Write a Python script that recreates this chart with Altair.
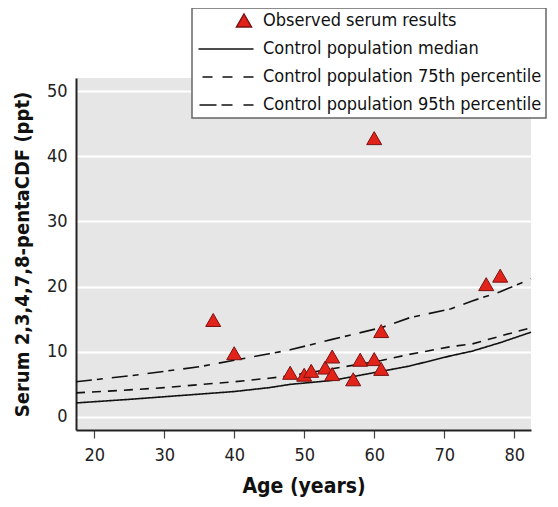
import altair as alt
import pandas as pd

# Observed serum results (age in years, 2,3,4,7,8-pentaCDF in ppt)
obs_age = [37, 40, 48, 50, 51, 53, 54, 54, 57, 58, 60, 61, 61, 76, 78, 60]
obs_val = [14.8, 9.7, 6.7, 6.4, 7.0, 7.5, 9.2, 6.5, 5.7, 8.7, 8.8, 13.1, 7.3, 20.3, 21.6, 42.7]

# Control population curves
curve_age = [17.4, 25, 30, 35, 40, 45, 48, 54, 61, 65, 71, 74, 78, 82.4]
median = [2.15, 2.7, 3.1, 3.5, 3.9, 4.5, 5.0, 5.6, 7.0, 7.8, 9.4, 10.1, 11.4, 13.0]
p75 = [3.7, 4.15, 4.5, 4.95, 5.4, 5.95, 6.3, 7.4, 8.65, 9.6, 10.8, 11.2, 12.4, 13.7]
p95 = [5.4, 6.3, 7.0, 7.7, 8.7, 9.7, 10.3, 11.9, 13.7, 15.2, 16.6, 17.8, 19.2, 21.2]

names = ["Observed serum results", "Control population median",
         "Control population 75th percentile", "Control population 95th percentile"]

FONT = "'DejaVu Sans Condensed', 'Roboto Condensed', Roboto, sans-serif"

obs_df = pd.DataFrame({"age": obs_age, "value": obs_val, "series": names[0]})
rows = []
for nm, vals in zip(names[1:], [median, p75, p95]):
    for a, v in zip(curve_age, vals):
        rows.append({"age": a, "value": v, "series": nm})
curve_df = pd.DataFrame(rows)

tri = "M0,-1.4L1.5,1.2L-1.5,1.2Z"
sym_med = "M-9.1,0H1.9"
sym_75 = "M-8.3,0H-6.3M-4.3,0H-2.3M-0.1,0H1.9"
sym_95 = "M-8.9,0H-5.5M-4.5,0H-2.3M-0.1,0H1.9"

xscale = alt.Scale(domain=[17.4, 82.4], nice=False, zero=False)
yscale = alt.Scale(domain=[-2, 52], nice=False, zero=False)

xaxis = alt.Axis(values=[20, 30, 40, 50, 60, 70, 80], grid=False, tickSize=8,
                 tickColor="#444", tickWidth=1.2, domainColor="#222", domainWidth=2,
                 labelFont=FONT, labelFontSize=18, labelColor="#222", labelPadding=8,
                 title="Age (years)", titleFont=FONT, titleFontSize=21,
                 titleFontWeight="bold", titlePadding=11, titleColor="#111")
yaxis = alt.Axis(values=[0, 10, 20, 30, 40, 50], grid=True, gridColor="white",
                 gridWidth=2, tickSize=0, domainColor="#222", domainWidth=2,
                 labelFont=FONT, labelFontSize=18, labelColor="#222", labelPadding=9,
                 title="Serum 2,3,4,7,8-pentaCDF (ppt)", titleFont=FONT,
                 titleFontSize=20, titleFontWeight="bold", titlePadding=14,
                 titleColor="#111")

lines = alt.Chart(curve_df).mark_line(color="#111", strokeWidth=1.6).encode(
    x=alt.X("age:Q", scale=xscale, axis=xaxis),
    y=alt.Y("value:Q", scale=yscale, axis=yaxis),
    strokeDash=alt.StrokeDash("series:N", legend=None,
                              scale=alt.Scale(domain=names[1:],
                                              range=[[1, 0], [9, 7], [16, 5, 6, 9]])),
)

legend = alt.Legend(title=None, orient="none", legendX=116, legendY=-70,
                    strokeColor="#666", fillColor="white",
                    padding=4, rowPadding=10, labelFont=FONT, labelFontSize=18,
                    labelColor="#111", labelOffset=10, symbolOffset=39,
                    symbolSize=100, symbolStrokeWidth=1.5, labelLimit=400)

points = alt.Chart(obs_df).mark_point(filled=True, size=100, strokeWidth=1,
                                      opacity=1).encode(
    x=alt.X("age:Q", scale=xscale),
    y=alt.Y("value:Q", scale=yscale),
    shape=alt.Shape("series:N", legend=legend,
                    scale=alt.Scale(domain=names, range=[tri, sym_med, sym_75, sym_95])),
    fill=alt.Fill("series:N", legend=legend,
                  scale=alt.Scale(domain=names,
                                  range=["#e2231a", "transparent", "transparent", "transparent"])),
    stroke=alt.Stroke("series:N", legend=legend,
                      scale=alt.Scale(domain=names,
                                      range=["#7a1212", "#111", "#111", "#111"])),
)

chart = alt.layer(lines, points).properties(
    width=455, height=352,
    autosize=alt.AutoSizeParams(type="none"),
    padding={"left": 68, "top": 70, "right": 19, "bottom": 69},
).configure_view(fill="#e6e6e6", stroke=None).configure_legend(strokeWidth=1.5)

chart.save("out.html", embed_options={"renderer": "svg", "actions": False})
